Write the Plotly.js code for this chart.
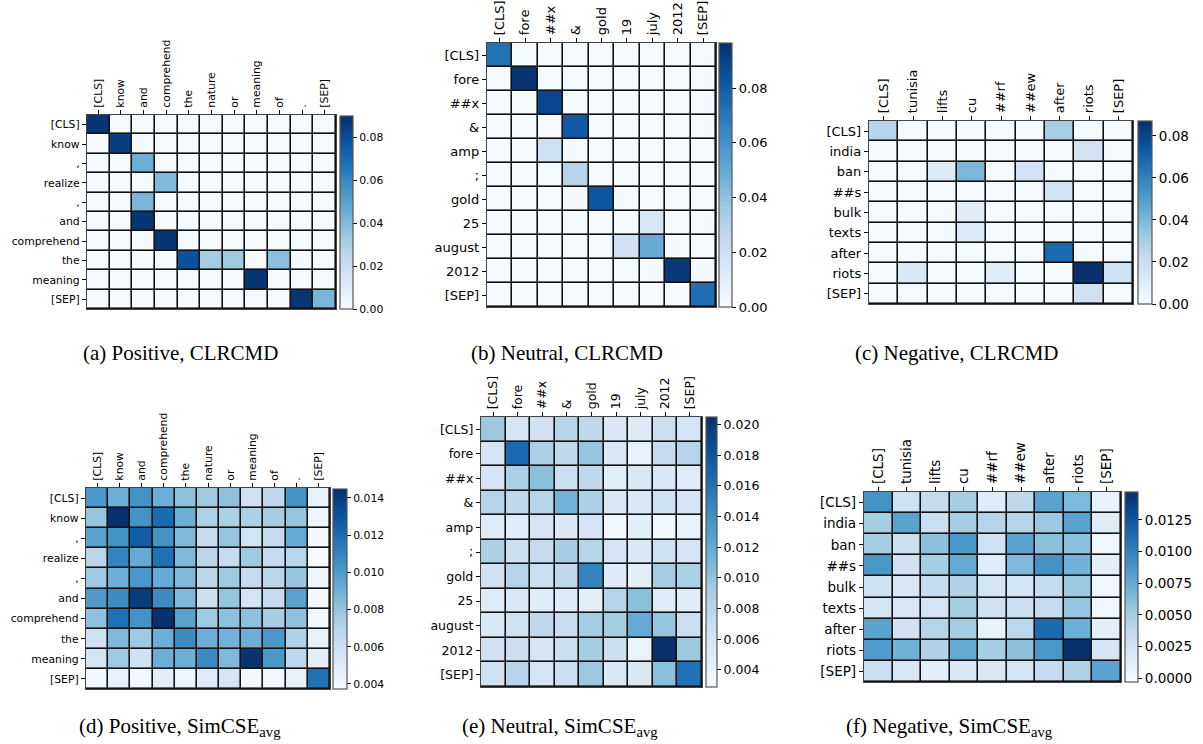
<!DOCTYPE html>
<html>
<head>
<meta charset="utf-8">
<script src="https://cdn.plot.ly/plotly-3.0.1.min.js"></script>
<style>html,body{margin:0;padding:0;background:#fff;}#chart{width:1203px;height:744px;}</style>
</head>
<body>
<div id="chart"></div>
<script>
// ---------- data ----------
const rowsA = ['[CLS]','know',',','realize',',','and','comprehend','the','meaning','[SEP]'];
const colsA = ['[CLS]','know','and','comprehend','the','nature','or','meaning','of','.','[SEP]'];
const rowsB = ['[CLS]','fore','##x','&','amp',';','gold','25','august','2012','[SEP]'];
const colsB = ['[CLS]','fore','##x','&','gold','19','july','2012','[SEP]'];
const rowsC = ['[CLS]','india','ban','##s','bulk','texts','after','riots','[SEP]'];
const colsC = ['[CLS]','tunisia','lifts','cu','##rf','##ew','after','riots','[SEP]'];

// (a) Positive, CLRCMD
const valsA = [
 [0.088,0.001,0.001,0.001,0.001,0.001,0.001,0.001,0.001,0.001,0.001],
 [0.001,0.085,0.001,0.001,0.001,0.001,0.001,0.001,0.001,0.001,0.001],
 [0.001,0.001,0.045,0.001,0.001,0.001,0.001,0.001,0.001,0.001,0.001],
 [0.001,0.001,0.001,0.040,0.001,0.001,0.001,0.001,0.001,0.001,0.001],
 [0.001,0.001,0.042,0.001,0.001,0.001,0.001,0.001,0.001,0.001,0.001],
 [0.001,0.001,0.088,0.001,0.001,0.001,0.001,0.001,0.001,0.001,0.001],
 [0.001,0.001,0.001,0.088,0.001,0.001,0.001,0.001,0.001,0.001,0.001],
 [0.001,0.001,0.001,0.001,0.078,0.032,0.034,0.001,0.038,0.001,0.001],
 [0.001,0.001,0.001,0.001,0.001,0.001,0.001,0.088,0.001,0.001,0.001],
 [0.001,0.001,0.001,0.001,0.001,0.001,0.001,0.001,0.001,0.088,0.042]
];
// (b) Neutral, CLRCMD
const valsB = [
 [0.072,0.001,0.001,0.001,0.001,0.001,0.001,0.001,0.001],
 [0.001,0.095,0.001,0.001,0.001,0.001,0.001,0.001,0.001],
 [0.001,0.001,0.088,0.001,0.001,0.001,0.001,0.001,0.001],
 [0.001,0.001,0.001,0.081,0.001,0.001,0.001,0.001,0.001],
 [0.001,0.001,0.020,0.001,0.001,0.001,0.001,0.001,0.001],
 [0.001,0.001,0.001,0.029,0.001,0.001,0.001,0.001,0.001],
 [0.001,0.001,0.001,0.001,0.082,0.001,0.001,0.001,0.001],
 [0.001,0.001,0.001,0.001,0.001,0.001,0.016,0.001,0.001],
 [0.001,0.001,0.001,0.001,0.001,0.019,0.049,0.001,0.001],
 [0.001,0.001,0.001,0.001,0.001,0.001,0.001,0.093,0.001],
 [0.001,0.001,0.001,0.001,0.001,0.001,0.001,0.001,0.073]
];
// (c) Negative, CLRCMD
const valsC = [
 [0.026,0.001,0.001,0.001,0.001,0.001,0.030,0.001,0.001],
 [0.001,0.001,0.001,0.001,0.001,0.001,0.001,0.017,0.001],
 [0.001,0.001,0.011,0.040,0.001,0.017,0.001,0.001,0.001],
 [0.001,0.001,0.001,0.001,0.001,0.001,0.017,0.001,0.001],
 [0.001,0.001,0.001,0.010,0.001,0.001,0.001,0.001,0.001],
 [0.001,0.001,0.001,0.012,0.001,0.001,0.001,0.001,0.001],
 [0.001,0.001,0.001,0.001,0.001,0.001,0.068,0.001,0.001],
 [0.001,0.013,0.001,0.001,0.010,0.001,0.001,0.087,0.018],
 [0.001,0.001,0.001,0.001,0.001,0.001,0.001,0.018,0.001]
];
// (d) Positive, SimCSE_avg
const valsD = [
 [0.0102,0.0091,0.0104,0.0091,0.0082,0.0078,0.0082,0.0059,0.0067,0.0104,0.0046],
 [0.0080,0.0145,0.0104,0.0121,0.0091,0.0072,0.0073,0.0073,0.0075,0.0080,0.0042],
 [0.0097,0.0104,0.0126,0.0104,0.0086,0.0064,0.0080,0.0057,0.0064,0.0093,0.0040],
 [0.0069,0.0110,0.0093,0.0118,0.0086,0.0069,0.0064,0.0078,0.0064,0.0069,0.0037],
 [0.0078,0.0091,0.0102,0.0093,0.0086,0.0069,0.0078,0.0064,0.0069,0.0080,0.0042],
 [0.0100,0.0107,0.0140,0.0107,0.0086,0.0061,0.0080,0.0057,0.0064,0.0097,0.0040],
 [0.0082,0.0118,0.0104,0.0145,0.0097,0.0078,0.0082,0.0082,0.0075,0.0082,0.0040],
 [0.0059,0.0086,0.0078,0.0091,0.0107,0.0091,0.0089,0.0091,0.0102,0.0072,0.0046],
 [0.0057,0.0078,0.0059,0.0091,0.0091,0.0107,0.0086,0.0143,0.0102,0.0067,0.0048],
 [0.0039,0.0046,0.0040,0.0048,0.0042,0.0050,0.0057,0.0039,0.0040,0.0046,0.0118]
];
// (e) Neutral, SimCSE_avg
const valsE = [
 [0.0096,0.0060,0.0064,0.0082,0.0077,0.0055,0.0052,0.0068,0.0060],
 [0.0060,0.0166,0.0087,0.0077,0.0099,0.0055,0.0043,0.0073,0.0082],
 [0.0060,0.0087,0.0103,0.0068,0.0077,0.0047,0.0055,0.0055,0.0050],
 [0.0082,0.0077,0.0082,0.0113,0.0087,0.0055,0.0055,0.0064,0.0059],
 [0.0050,0.0050,0.0059,0.0055,0.0060,0.0033,0.0047,0.0036,0.0043],
 [0.0087,0.0068,0.0073,0.0091,0.0082,0.0059,0.0055,0.0064,0.0060],
 [0.0064,0.0082,0.0068,0.0077,0.0149,0.0052,0.0047,0.0091,0.0087],
 [0.0050,0.0055,0.0050,0.0052,0.0047,0.0082,0.0103,0.0050,0.0050],
 [0.0055,0.0064,0.0077,0.0070,0.0091,0.0091,0.0120,0.0099,0.0068],
 [0.0064,0.0068,0.0059,0.0068,0.0091,0.0068,0.0040,0.0205,0.0096],
 [0.0064,0.0082,0.0060,0.0068,0.0096,0.0055,0.0055,0.0103,0.0161]
];
// (f) Negative, SimCSE_avg
const valsF = [
 [0.0090,0.0027,0.0035,0.0050,0.0015,0.0038,0.0080,0.0065,0.0008],
 [0.0050,0.0080,0.0030,0.0050,0.0042,0.0042,0.0054,0.0080,0.0015],
 [0.0050,0.0030,0.0060,0.0087,0.0027,0.0080,0.0060,0.0060,0.0003],
 [0.0087,0.0027,0.0050,0.0075,0.0015,0.0065,0.0090,0.0070,0.0012],
 [0.0027,0.0020,0.0035,0.0045,0.0024,0.0024,0.0035,0.0054,0.0003],
 [0.0024,0.0020,0.0024,0.0050,0.0027,0.0030,0.0035,0.0057,0.0002],
 [0.0080,0.0027,0.0042,0.0050,0.0009,0.0039,0.0114,0.0072,0.0012],
 [0.0084,0.0070,0.0045,0.0075,0.0050,0.0060,0.0087,0.0147,0.0023],
 [0.0030,0.0020,0.0012,0.0020,0.0020,0.0024,0.0035,0.0045,0.0080]
];

const captions = ['(a) Positive, CLRCMD','(b) Neutral, CLRCMD','(c) Negative, CLRCMD',
  '(d) Positive, SimCSE<sub>avg</sub>','(e) Neutral, SimCSE<sub>avg</sub>','(f) Negative, SimCSE<sub>avg</sub>'];

const cbTicksA = [0,0.02,0.04,0.06,0.08];
const cbTicksD = [0.004,0.006,0.008,0.010,0.012,0.014];
const cbTicksE = [0.004,0.006,0.008,0.010,0.012,0.014,0.016,0.018,0.020];
const cbTicksF = [0,0.0025,0.0050,0.0075,0.0100,0.0125];

// ---------- layout helpers ----------
const W = 1203, H = 744;
const BLUES = [[0,'#f7fbff'],[0.125,'#deebf7'],[0.25,'#c6dbef'],[0.375,'#9ecae1'],[0.5,'#6baed6'],[0.625,'#4292c6'],[0.75,'#2171b5'],[0.875,'#08519c'],[1,'#08306b']];
const px = v => v / W;
const py = v => 1 - v / H;

const panels = [
  {rows:rowsA, cols:colsA, z:valsA, zmin:0, zmax:0.0898, box:[87,336,115,309], cb:[340,13,116,309], ticks:cbTicksA, fmt:'.2f', fs:10.8, cfs:10.8, cap:[180,353]},
  {rows:rowsB, cols:colsB, z:valsB, zmin:0, zmax:0.0965, box:[487,716,43,307], cb:[719,13,43,307], ticks:cbTicksA, fmt:'.2f', fs:13, cfs:13, cap:[567,353]},
  {rows:rowsC, cols:colsC, z:valsC, zmin:0, zmax:0.0871, box:[869,1133,121,304], cb:[1138,14,121,304], ticks:cbTicksA, fmt:'.2f', fs:13, cfs:13.5, cap:[957,353]},
  {rows:rowsA, cols:colsA, z:valsD, zmin:0.00373, zmax:0.01448, box:[86,330,488,689], cb:[333,14,489,689], ticks:cbTicksD, fmt:'.3f', fs:10.8, cfs:10.8, cap:[180,727]},
  {rows:rowsB, cols:colsB, z:valsE, zmin:0.00289, zmax:0.0205, box:[481,702,417,687], cb:[706,11,417,687], ticks:cbTicksE, fmt:'.3f', fs:12.5, cfs:12.5, cap:[560,727]},
  {rows:rowsC, cols:colsC, z:valsF, zmin:-0.0003, zmax:0.0147, box:[864,1121,492,682], cb:[1125,13,492,682], ticks:cbTicksF, fmt:'.4f', fs:13.5, cfs:13.5, cap:[949,727]}
];

const data = [];
const layout = {
  width: W, height: H,
  margin: {l:0, r:0, t:0, b:0},
  paper_bgcolor: '#ffffff',
  plot_bgcolor: '#111111',
  font: {family: 'DejaVu Sans, sans-serif', color: '#000'},
  showlegend: false,
  annotations: []
};

panels.forEach((p, i) => {
  const k = i + 1;
  const xa = 'xaxis' + k, ya = 'yaxis' + k;
  const [x0, x1, y0, y1] = p.box;
  data.push({
    type: 'heatmap',
    z: p.z,
    x: p.cols.map((_, j) => j),
    y: p.rows.map((_, j) => j),
    xaxis: 'x' + k, yaxis: 'y' + k,
    colorscale: BLUES,
    zmin: p.zmin, zmax: p.zmax,
    xgap: 1.6, ygap: 1.6,
    hoverinfo: 'skip',
    colorbar: {
      x: px(p.cb[0]), xanchor: 'left', xpad: 0, ypad: 0,
      y: py(p.cb[2]), yanchor: 'top',
      len: (p.cb[3] - p.cb[2]) / H, lenmode: 'fraction',
      thickness: p.cb[1], thicknessmode: 'pixels',
      outlinewidth: 1.2, outlinecolor: '#555',
      tickvals: p.ticks, tickformat: p.fmt,
      ticks: 'outside', ticklen: 4, tickwidth: 1, tickcolor: '#000',
      tickfont: {size: p.cfs, family: 'DejaVu Sans, sans-serif', color: '#000'}
    }
  });
  layout[xa] = {
    domain: [px(x0), px(x1)], anchor: 'y' + k, side: 'top',
    tickmode: 'array', tickvals: p.cols.map((_, j) => j), ticktext: p.cols,
    tickangle: -90, ticks: 'outside', ticklen: 4, tickwidth: 1, tickcolor: '#000',
    tickfont: {size: p.fs, family: 'DejaVu Sans, sans-serif', color: '#000'},
    showgrid: false, zeroline: false,
    showline: true, mirror: true, linecolor: '#444', linewidth: 1.2,
    range: [-0.5, p.cols.length - 0.5], fixedrange: true
  };
  layout[ya] = {
    domain: [py(y1), py(y0)], anchor: 'x' + k,
    tickmode: 'array', tickvals: p.rows.map((_, j) => j), ticktext: p.rows,
    ticks: 'outside', ticklen: 4, tickwidth: 1, tickcolor: '#000',
    tickfont: {size: p.fs, family: 'DejaVu Sans, sans-serif', color: '#000'},
    showgrid: false, zeroline: false,
    showline: true, mirror: true, linecolor: '#444', linewidth: 1.2,
    range: [p.rows.length - 0.5, -0.5], fixedrange: true
  };
  layout.annotations.push({
    xref: 'paper', yref: 'paper', x: px(p.cap[0]), y: py(p.cap[1]),
    xanchor: 'center', yanchor: 'middle', showarrow: false,
    text: captions[i],
    font: {family: 'Liberation Serif, Times New Roman, serif', size: 21, color: '#000'}
  });
});

Plotly.newPlot('chart', data, layout, {staticPlot: true, displayModeBar: false});
</script>
</body>
</html>
